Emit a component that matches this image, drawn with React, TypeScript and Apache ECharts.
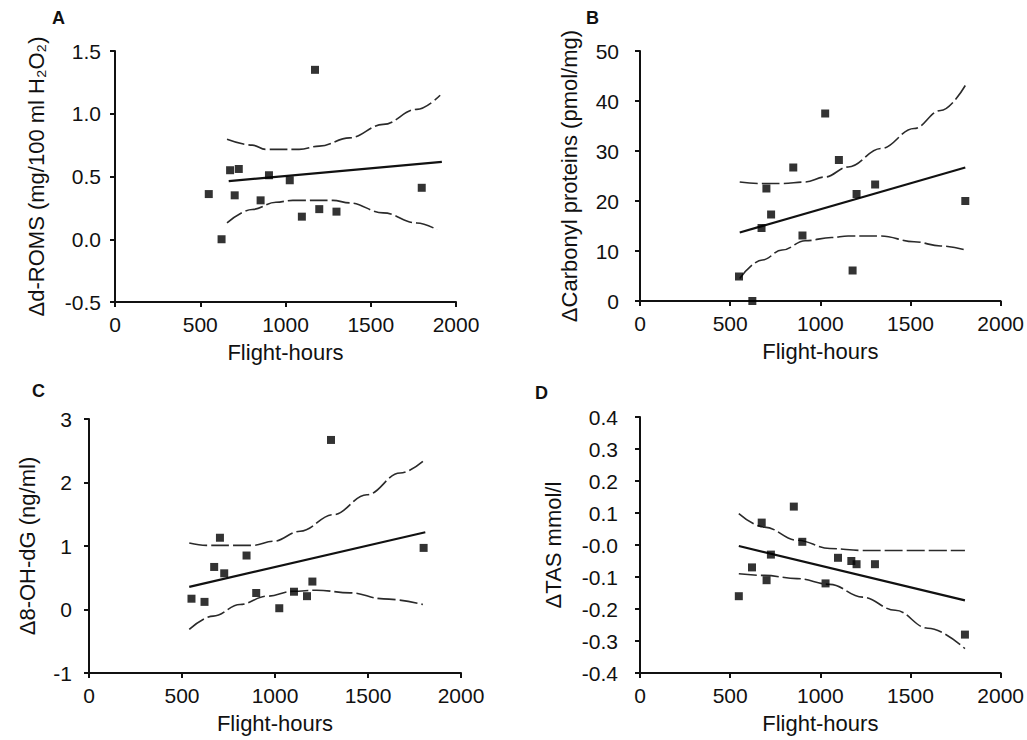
import React, { useEffect, useRef } from "react";
import * as echarts from "echarts";

const FONT = "Liberation Sans, Arial, Helvetica, sans-serif";

const xTicks = [0, 500, 1000, 1500, 2000];

// Panel A: Δd-ROMS
const aX = [550, 625, 675, 702, 726, 854, 903, 1025, 1096, 1173, 1198, 1299, 1799];
const aY = [0.36, 0.0, 0.55, 0.35, 0.56, 0.31, 0.51, 0.47, 0.18, 1.35, 0.24, 0.22, 0.41];
const aFitX = [667, 1917];
const aFitY = [0.463, 0.617];
const aUpperX = [657, 805, 884, 1080, 1198, 1375, 1573, 1770, 1907];
const aUpperY = [0.796, 0.75, 0.716, 0.716, 0.742, 0.808, 0.915, 1.035, 1.147];
const aLowerX = [657, 805, 944, 1043, 1279, 1375, 1573, 1770, 1888];
const aLowerY = [0.13, 0.237, 0.295, 0.31, 0.31, 0.29, 0.21, 0.13, 0.077];

// Panel B: ΔCarbonyl proteins
const bX = [549, 623, 674, 701, 727, 850, 901, 1027, 1103, 1179, 1201, 1304, 1804];
const bY = [4.9, 0, 14.6, 22.5, 17.3, 26.7, 13.1, 37.5, 28.2, 6.1, 21.4, 23.3, 20.0];
const bFitX = [553, 1804];
const bFitY = [13.7, 26.7];
const bUpperX = [553, 659, 788, 916, 1026, 1154, 1337, 1520, 1667, 1804];
const bUpperY = [23.8, 23.5, 23.5, 23.8, 24.8, 26.8, 30.5, 34.5, 38.1, 43.1];
const bLowerX = [553, 678, 788, 916, 1062, 1154, 1337, 1520, 1667, 1795];
const bLowerY = [4.5, 8.2, 10.2, 12.05, 12.7, 13.0, 13.0, 11.85, 11.0, 10.3];

// Panel C: Δ8-OH-dG
const cX = [551, 621, 673, 704, 727, 847, 899, 1023, 1102, 1172, 1201, 1301, 1799];
const cY = [0.17, 0.12, 0.67, 1.13, 0.57, 0.85, 0.26, 0.02, 0.28, 0.21, 0.44, 2.67, 0.97];
const cFitX = [539, 1808];
const cFitY = [0.356, 1.216];
const cUpperX = [539, 632, 776, 883, 991, 1135, 1314, 1494, 1673, 1795];
const cUpperY = [1.048, 1.01, 1.01, 1.01, 1.074, 1.232, 1.494, 1.808, 2.149, 2.332];
const cLowerX = [539, 668, 812, 956, 1099, 1224, 1404, 1583, 1795];
const cLowerY = [-0.314, -0.105, 0.079, 0.21, 0.288, 0.304, 0.262, 0.168, 0.079];

// Panel D: ΔTAS
const dX = [548, 621, 675, 702, 726, 853, 900, 1029, 1098, 1172, 1201, 1303, 1802];
const dY = [-0.16, -0.07, 0.07, -0.11, -0.03, 0.12, 0.01, -0.12, -0.04, -0.05, -0.06, -0.06, -0.28];
const dFitX = [548, 1802];
const dFitY = [-0.003, -0.173];
const dUpperX = [548, 690, 871, 1053, 1234, 1416, 1802];
const dUpperY = [0.098, 0.056, 0.015, -0.011, -0.017, -0.017, -0.017];
const dLowerX = [548, 690, 871, 1053, 1234, 1416, 1597, 1802];
const dLowerY = [-0.09, -0.095, -0.105, -0.123, -0.163, -0.204, -0.26, -0.324];

const panelLetters = ["A", "B", "C", "D"];
const yNames = [
  "Δd-ROMS (mg/100 ml H₂O₂)",
  "ΔCarbonyl proteins (pmol/mg)",
  "Δ8-OH-dG (ng/ml)",
  "ΔTAS mmol/l",
];
const xName = "Flight-hours";

const zip = (xs: number[], ys: number[]) => xs.map((x, i) => [x, ys[i]]);

const panels = [
  { x: aX, y: aY, fx: aFitX, fy: aFitY, ux: aUpperX, uy: aUpperY, lx: aLowerX, ly: aLowerY,
    min: -0.5, max: 1.5, interval: 0.5, fmt: (v: number) => v.toFixed(1) },
  { x: bX, y: bY, fx: bFitX, fy: bFitY, ux: bUpperX, uy: bUpperY, lx: bLowerX, ly: bLowerY,
    min: 0, max: 50, interval: 10, fmt: (v: number) => String(Math.round(v)) },
  { x: cX, y: cY, fx: cFitX, fy: cFitY, ux: cUpperX, uy: cUpperY, lx: cLowerX, ly: cLowerY,
    min: -1, max: 3, interval: 1, fmt: (v: number) => String(Math.round(v)) },
  { x: dX, y: dY, fx: dFitX, fy: dFitY, ux: dUpperX, uy: dUpperY, lx: dLowerX, ly: dLowerY,
    min: -0.4, max: 0.4, interval: 0.1,
    fmt: (v: number) => (Math.abs(v) < 1e-9 ? "-0.0" : v.toFixed(1)) },
];

const grids = [
  { left: 115, top: 51, width: 341, height: 251 },
  { left: 640, top: 51, width: 364, height: 250 },
  { left: 89, top: 419, width: 372, height: 254 },
  { left: 640, top: 417, width: 367, height: 256 },
];
const yNameGaps = [68, 60, 51, 76];
const yLabelMargins = [14, 21, 17, 22];
const letterPos = [
  [52, 9],
  [586, 9],
  [32, 382],
  [535, 384],
];

export default function App() {
  const ref = useRef<HTMLDivElement>(null);
  useEffect(() => {
    if (!ref.current) return;
    const chart = echarts.init(ref.current, undefined, { renderer: "svg" });
    const axisLine = { onZero: false, lineStyle: { color: "#111", width: 2 } };
    const axisTick = { length: 5, inside: false, lineStyle: { color: "#111", width: 2 } };
    const labelStyle = { color: "#111", fontSize: 21, fontFamily: FONT };

    const xAxis = panels.map((_, i) => ({
      type: "value",
      gridIndex: i,
      min: xTicks[0],
      max: xTicks[xTicks.length - 1],
      interval: xTicks[1] - xTicks[0],
      name: xName,
      nameLocation: "middle",
      nameGap: 39,
      nameTextStyle: { color: "#111", fontSize: 22, fontFamily: FONT },
      axisLine,
      axisTick,
      axisLabel: { ...labelStyle, margin: 12, formatter: (v: number) => String(Math.round(v)) },
      splitLine: { show: false },
    }));

    const yAxis = panels.map((p, i) => ({
      type: "value",
      gridIndex: i,
      min: p.min,
      max: p.max,
      interval: p.interval,
      name: yNames[i],
      nameLocation: "middle",
      nameGap: yNameGaps[i],
      nameRotate: 90,
      nameTextStyle: { color: "#111", fontSize: 22, fontFamily: FONT },
      axisLine,
      axisTick,
      axisLabel: { ...labelStyle, margin: yLabelMargins[i], formatter: p.fmt },
      splitLine: { show: false },
    }));

    const series: any[] = [];
    panels.forEach((p, i) => {
      const ciStyle = { color: "#2a2a2a", width: 1.6, type: [18, 4] };
      series.push({
        type: "line",
        xAxisIndex: i,
        yAxisIndex: i,
        data: zip(p.ux, p.uy),
        smooth: 0.4,
        smoothMonotone: "x",
        showSymbol: false,
        lineStyle: ciStyle,
        z: 2,
      });
      series.push({
        type: "line",
        xAxisIndex: i,
        yAxisIndex: i,
        data: zip(p.lx, p.ly),
        smooth: 0.4,
        smoothMonotone: "x",
        showSymbol: false,
        lineStyle: ciStyle,
        z: 2,
      });
      series.push({
        type: "line",
        xAxisIndex: i,
        yAxisIndex: i,
        data: zip(p.fx, p.fy),
        showSymbol: false,
        lineStyle: { color: "#111", width: 2.2 },
        z: 3,
      });
      series.push({
        type: "scatter",
        xAxisIndex: i,
        yAxisIndex: i,
        data: zip(p.x, p.y),
        symbol: "rect",
        symbolSize: 8,
        itemStyle: { color: "#000" },
        z: 4,
      });
    });

    const graphic = panelLetters.map((t, i) => ({
      type: "text",
      left: letterPos[i][0],
      top: letterPos[i][1],
      style: { text: t, font: `bold 18px ${FONT}`, fill: "#111" },
    }));

    chart.setOption({
      animation: false,
      backgroundColor: "#fff",
      grid: grids.map((g) => ({ ...g })),
      xAxis,
      yAxis,
      series,
      graphic,
    });
    return () => chart.dispose();
  }, []);

  return (
    <div
      ref={ref}
      style={{ position: "absolute", left: 0, top: 0, width: 1027, height: 740, background: "#fff" }}
    />
  );
}
